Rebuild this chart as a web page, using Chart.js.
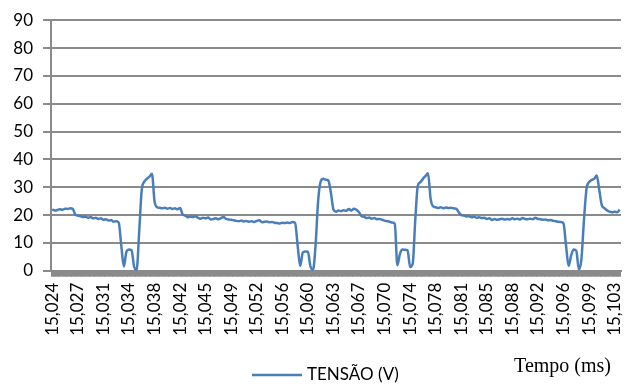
<!DOCTYPE html>
<html>
<head>
<meta charset="utf-8">
<script src="https://cdn.jsdelivr.net/npm/chart.js@4/dist/chart.umd.min.js"></script>
<style>
html,body{margin:0;padding:0;background:#fff;}
canvas{display:block;}
</style>
</head>
<body>
<canvas id="tensaoChart" width="639" height="387"></canvas>
<script>
// eixo do tempo: um rótulo a cada 10 amostras
const tickLabels = ['15,024','15,027','15,031','15,034','15,038','15,042','15,045','15,049','15,052','15,056','15,060','15,063',
  '15,067','15,070','15,074','15,078','15,081','15,085','15,088','15,092','15,096','15,099','15,103'];
const tickEvery = 10;

// TENSÃO (V), uma amostra por categoria
const tensao = [
  22.0, 21.6, 21.8, 22.1, 21.9, 22.3, 22.2, 22.4, 22.2, 20.2,
  19.8, 19.6, 19.3, 19.5, 19.0, 19.3, 18.8, 19.0, 18.6, 18.8,
  18.3, 18.5, 18.0, 18.2, 17.6, 17.8, 17.3, 9.0, 1.5, 6.8,
  7.6, 7.4, 1.5, 0.3, 14.0, 29.0, 32.0, 33.0, 33.8, 34.8,
  25.0, 22.8, 22.6, 22.4, 22.6, 22.3, 22.5, 22.2, 22.4, 22.1,
  22.5, 20.2, 19.8, 19.2, 19.5, 19.3, 19.6, 19.0, 18.7, 19.0,
  18.8, 19.1, 18.4, 18.6, 18.8, 18.5, 18.9, 19.3, 18.6, 18.4,
  18.3, 18.1, 17.9, 17.8, 18.0, 17.7, 17.9, 17.6, 17.8, 17.5,
  17.9, 18.1, 17.4, 17.6, 17.7, 17.4, 17.5, 17.2, 17.1, 17.0,
  17.2, 17.1, 17.3, 17.1, 17.5, 17.2, 9.0, 1.7, 6.5, 6.9,
  6.8, 1.5, 0.3, 9.0, 25.0, 32.0, 33.0, 32.7, 32.4, 28.0,
  22.0, 21.2, 21.6, 21.4, 21.7, 21.5, 22.2, 21.6, 22.3, 21.9,
  21.0, 19.6, 19.4, 18.9, 19.1, 18.7, 18.9, 18.5, 18.6, 18.3,
  18.0, 17.8, 17.6, 17.3, 16.8, 2.0, 6.0, 7.6, 7.5, 7.3,
  1.3, 2.5, 18.0, 30.5, 31.8, 33.0, 34.0, 35.0, 26.0, 23.1,
  22.8, 22.5, 22.8, 22.4, 22.7, 22.5, 22.6, 22.4, 22.3, 21.0,
  20.0, 19.8, 19.5, 19.6, 19.2, 19.4, 19.0, 19.2, 18.9, 19.0,
  18.6, 18.8, 18.2, 18.6, 18.3, 18.5, 18.7, 18.4, 18.6, 18.4,
  18.8, 18.5, 18.7, 18.4, 18.9, 18.6, 18.5, 18.7, 18.5, 19.0,
  18.6, 18.5, 18.3, 18.4, 18.1, 18.2, 17.9, 17.8, 17.6, 17.5,
  17.0, 9.0, 1.7, 5.5, 7.6, 7.2, 0.5, 4.0, 18.0, 29.4,
  31.8, 32.6, 33.0, 34.2, 29.0, 23.5, 22.5, 21.7, 21.2, 21.0,
  21.2, 21.0, 21.9
];

const yMin = 0, yMax = 90, yStep = 10;
const serieNome = 'TENSÃO (V)';
const xTitulo = 'Tempo (ms)';

const labels = tensao.map((_, i) => i % tickEvery === 0 ? (tickLabels[i / tickEvery] || '') : '');
const cinza = '#8a8a8a';
const fonte = {family: 'Lato', size: 17};

// legenda e título do eixo x desenhados no rodapé
const rodape = {
  id: 'rodape',
  afterDraw(c){
    const {ctx, chartArea} = c;
    const ds = c.data.datasets[0];
    ctx.save();
    ctx.strokeStyle = ds.borderColor;
    ctx.lineWidth = ds.borderWidth;
    ctx.beginPath();
    ctx.moveTo(252, 375);
    ctx.lineTo(302, 375);
    ctx.stroke();
    ctx.font = '17px Lato';
    ctx.fillStyle = '#000';
    ctx.textBaseline = 'middle';
    ctx.fillText(ds.label, 307, 375);
    ctx.font = '20px "Liberation Serif"';
    ctx.textAlign = 'right';
    ctx.fillText(xTitulo, chartArea.right - 10, 367);
    ctx.restore();
  }
};

new Chart(document.getElementById('tensaoChart'), {
  type: 'line',
  data: {labels, datasets: [{
    label: serieNome, data: tensao,
    borderColor: '#4a7ebb', backgroundColor: '#4a7ebb', borderWidth: 2.5,
    pointRadius: 0, cubicInterpolationMode: 'monotone', fill: false
  }]},
  options: {
    responsive: false, animation: false,
    layout: {padding: {top: 18.7, left: 0, right: 18, bottom: 0}},
    plugins: {tooltip: {enabled: false}, legend: {display: false}},
    scales: {
      x: {offset: true,
        ticks: {autoSkip: false, minRotation: 90, maxRotation: 90, padding: 6, color: '#000', font: fonte},
        grid: {drawOnChartArea: false, tickLength: 6, tickWidth: 3, tickColor: cinza},
        border: {color: cinza, width: 2},
        afterFit: s => { s.height = 116.3; s.paddingLeft = 0; s.paddingRight = 0; }},
      y: {min: yMin, max: yMax,
        ticks: {stepSize: yStep, padding: 10, color: '#000', font: fonte},
        grid: {color: cinza, lineWidth: 2, tickLength: 8},
        border: {color: cinza, width: 2},
        afterFit: s => { s.width = 51; }}
    }
  },
  plugins: [rodape]
});
</script>
</body>
</html>
